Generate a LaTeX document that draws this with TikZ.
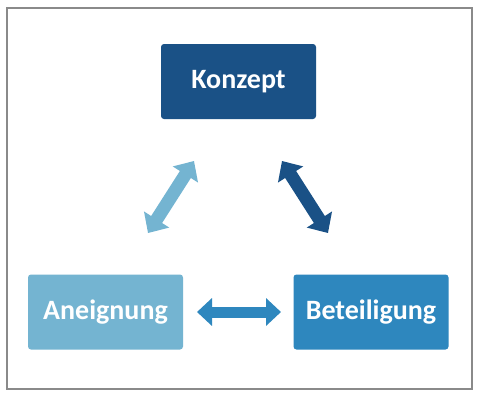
\documentclass[tikz,border=0pt]{standalone}
\usepackage{fontspec}
\setmainfont{Carlito}
\usetikzlibrary{arrows.meta}
\definecolor{cdark}{HTML}{1A5186}
\definecolor{cmid}{HTML}{2E87BE}
\definecolor{clight}{HTML}{74B4D1}
\definecolor{cframe}{HTML}{8A8A8A}
\tikzset{
  box/.style={rectangle, rounded corners=3pt, minimum width=155pt, minimum height=75pt,
    inner sep=0pt, text=white, font=\fontsize{28}{32}\selectfont\bfseries},
  fatarrow/.style={line width=11pt, {Triangle[length=15pt,width=27pt]}-{Triangle[length=15pt,width=27pt]}},
  diagarrow/.style={line width=13pt, {Triangle[length=16pt,width=29pt]}-{Triangle[length=16pt,width=29pt]}}
}
\begin{document}
\begin{tikzpicture}[x=1pt,y=-1pt]
\useasboundingbox (0,0) rectangle (480,400);
\fill[white] (0,0) rectangle (480,400);
\draw[cframe, line width=1.2pt] (7,8) rectangle (472,389);
\node[box, fill=cdark] (konzept) at (238.5,81.5) {Konzept};
\node[box, fill=clight] (aneignung) at (105.5,312) {Aneignung};
\node[box, fill=cmid] (beteiligung) at (371,312) {Beteiligung};
\coordinate (l1) at (148,233);
\coordinate (l2) at (194,161);
\coordinate (r1) at (282,161);
\coordinate (r2) at (328,233);
\coordinate (h1) at (197,312);
\coordinate (h2) at (281,312);
\draw[diagarrow, clight] (l1) -- (l2);
\draw[diagarrow, cdark] (r1) -- (r2);
\draw[fatarrow, cmid] (h1) -- (h2);
\end{tikzpicture}
\end{document}
